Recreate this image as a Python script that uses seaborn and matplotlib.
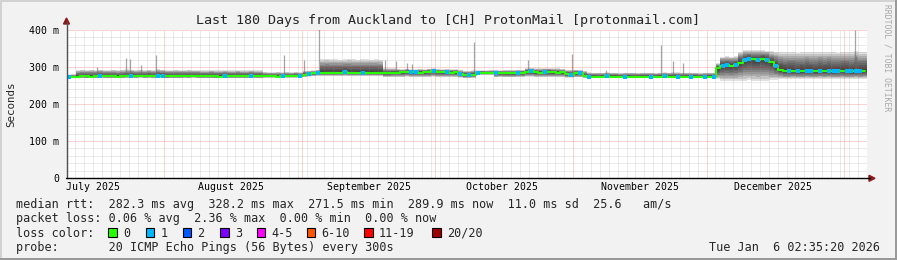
import numpy as np
import pandas as pd
import matplotlib
matplotlib.use("Agg")
import matplotlib.pyplot as plt
import seaborn as sns
from matplotlib.patches import Rectangle, Polygon
from matplotlib.lines import Line2D

# ---------------- data ----------------
start_time = "2025-07-10 02:35:20"
n_days = 180

median_ms = [
    273, 273, 274, 275, 275, 274, 275, 276, 275, 275,
    275, 274, 275, 276, 277, 275, 275, 275, 276, 275,
    277, 276, 275, 275, 275, 275, 276, 275, 275, 275,
    275, 275, 275, 275, 274, 276, 275, 275, 275, 275,
    275, 276, 275, 275, 275, 275, 275, 274, 276, 275,
    275, 276, 277, 279, 281, 283, 284, 285, 284, 284,
    284, 285, 286, 284, 284, 285, 284, 284, 285, 284,
    284, 283, 284, 285, 285, 286, 287, 286, 286, 285,
    286, 287, 289, 287, 286, 286, 285, 286, 281, 278,
    278, 279, 284, 285, 284, 283, 283, 284, 283, 283,
    283, 284, 284, 287, 288, 286, 285, 286, 287, 286,
    285, 286, 281, 279, 283, 283, 277, 274, 274, 273,
    274, 275, 274, 274, 273, 274, 274, 273, 274, 274,
    274, 273, 274, 274, 275, 274, 274, 274, 273, 274,
    274, 274, 273, 274, 274, 274, 296, 304, 306, 303,
    305, 312, 320, 322, 321, 319, 322, 320, 314, 303,
    293, 289, 289, 290, 288, 289, 290, 289, 288, 290,
    289, 290, 288, 289, 290, 289, 288, 290, 289, 290,
]

smoke_high_ms = [
    279, 280, 292, 293, 292, 293, 292, 293, 292, 292,
    293, 292, 293, 294, 293, 292, 293, 292, 293, 292,
    294, 293, 292, 292, 293, 292, 292, 293, 292, 292,
    291, 291, 292, 291, 291, 292, 291, 291, 292, 291,
    291, 292, 291, 291, 287, 286, 286, 287, 286, 287,
    286, 287, 286, 290, 290, 291, 293, 321, 322, 321,
    321, 320, 321, 322, 321, 320, 321, 321, 320, 321,
    320, 297, 296, 296, 295, 294, 295, 294, 294, 295,
    294, 295, 296, 294, 294, 295, 294, 294, 292, 290,
    290, 291, 291, 291, 291, 292, 292, 291, 292, 292,
    292, 293, 292, 296, 297, 296, 296, 297, 296, 296,
    296, 295, 292, 292, 293, 292, 290, 286, 285, 285,
    285, 286, 285, 285, 284, 285, 285, 285, 284, 285,
    285, 285, 284, 285, 286, 285, 286, 286, 285, 285,
    285, 285, 284, 285, 285, 285, 310, 328, 329, 328,
    330, 340, 345, 346, 345, 346, 345, 344, 342, 341,
    340, 340, 341, 340, 339, 340, 341, 340, 340, 341,
    340, 341, 340, 339, 340, 341, 340, 342, 341, 340,
]

smoke_low_ms = [
    269, 269, 270, 270, 269, 270, 270, 271, 270, 270,
    270, 269, 270, 270, 270, 270, 271, 270, 270, 270,
    270, 270, 269, 270, 270, 270, 270, 270, 271, 270,
    270, 270, 270, 269, 270, 270, 270, 270, 270, 270,
    270, 270, 270, 270, 271, 271, 271, 270, 271, 271,
    271, 271, 272, 273, 274, 275, 276, 276, 276, 276,
    276, 276, 276, 276, 276, 276, 276, 276, 276, 276,
    276, 273, 272, 272, 272, 272, 273, 272, 272, 272,
    272, 272, 273, 272, 272, 272, 272, 272, 271, 270,
    270, 270, 279, 279, 279, 279, 272, 272, 272, 272,
    272, 272, 272, 273, 273, 272, 272, 272, 272, 272,
    272, 272, 271, 271, 272, 272, 270, 270, 270, 270,
    270, 270, 270, 270, 270, 270, 270, 270, 270, 270,
    270, 270, 270, 270, 270, 270, 270, 270, 270, 270,
    270, 270, 270, 270, 270, 270, 268, 263, 263, 263,
    263, 263, 263, 264, 263, 263, 263, 263, 264, 266,
    267, 268, 268, 268, 268, 268, 268, 268, 268, 268,
    268, 268, 268, 268, 268, 268, 268, 268, 268, 268,
]

# single-sample spikes: day offset and top of the smoke (ms)
spike_days = [6.8, 13.2, 14.1, 16.7, 20.0, 48.8, 53.3, 56.7, 71.5, 74.0,
              76.6, 77.7, 91.6, 103.7, 113.6, 121.3, 133.7, 136.3, 138.6,
              177.2, 177.6]
spike_tops = [301, 323, 321, 305, 332, 332, 319, 405, 319, 315,
              310, 308, 368, 319, 334, 292, 359, 315, 310,
              400, 330]

# days where the median carried 1 lost ping (blue)
loss1_days = [0, 7, 14, 20, 21, 35, 41, 48, 52, 54, 56, 62, 66, 77, 78, 82,
              85, 88, 90, 92, 96, 101, 104, 107, 113, 115, 117, 121, 125,
              131, 134, 137, 140, 143, 145, 147, 148, 150, 152, 153, 155,
              157, 159, 162, 164, 166, 167, 169, 171, 172, 173, 175, 176,
              177, 178]

y_ticks = [0, 100, 200, 300, 400]
y_tick_labels = ["0", "100 m", "200 m", "300 m", "400 m"]
month_label_dates = ["2025-07-16", "2025-08-16", "2025-09-16",
                     "2025-10-16", "2025-11-16", "2025-12-16"]
month_labels = ["July 2025", "August 2025", "September 2025",
                "October 2025", "November 2025", "December 2025"]
month_starts = ["2025-08-01", "2025-09-01", "2025-10-01",
                "2025-11-01", "2025-12-01", "2026-01-01"]

loss_labels = ["0", "1", "2", "3", "4-5", "6-10", "11-19", "20/20"]
loss_colors = ["#26ff00", "#00b8ff", "#0059ff", "#7e00ff",
               "#ff00ff", "#ff5500", "#ff0000", "#a10000"]

title = "Last 180 Days from Auckland to [CH] ProtonMail [protonmail.com]"
row_rtt = "median rtt:  282.3 ms avg  328.2 ms max  271.5 ms min  289.9 ms now  11.0 ms sd  25.6   am/s"
row_loss = "packet loss: 0.06 % avg  2.36 % max  0.00 % min  0.00 % now"
row_color = "loss color:"
row_probe = "probe:       20 ICMP Echo Pings (56 Bytes) every 300s"
stamp = "Tue Jan  6 02:35:20 2026"

# ---------------- figure ----------------
sns.set_theme(style="white")
plt.rcParams["font.family"] = ["DejaVu Sans Mono"]

W, H = 897, 260
fig = plt.figure(figsize=(W / 100, H / 100), dpi=100, facecolor="#f2f2f2")


def fx(x):
    return x / W


def fy(y):
    return 1 - y / H


ax = fig.add_axes([fx(67), fy(178), 800 / W, 148 / H])
ax.set_facecolor("white")
for s in ax.spines.values():
    s.set_visible(False)

t0 = pd.Timestamp(start_time)
centers = t0 + pd.to_timedelta(np.arange(n_days) + 0.5, unit="D")
df = pd.DataFrame({"t": centers, "median": median_ms,
                   "hi": smoke_high_ms, "lo": smoke_low_ms})
edges = t0 + pd.to_timedelta(np.arange(n_days + 1), unit="D")
med_e = np.append(df["median"].values, df["median"].values[-1]).astype(float)
hi_e = np.append(df["hi"].values, df["hi"].values[-1]).astype(float)
lo_e = np.append(df["lo"].values, df["lo"].values[-1]).astype(float)

# smoke: layered grey bands, darkest around the median
n_layers = 10
for i in range(1, n_layers + 1):
    f = i / n_layers
    ax.fill_between(edges, med_e - f * (med_e - lo_e), med_e + f * (hi_e - med_e),
                    step="post", color="black", alpha=0.12, lw=0, zorder=2)

# spikes
sp_t = t0 + pd.to_timedelta(spike_days, unit="D")
sp_base = [median_ms[int(d)] for d in spike_days]
ax.vlines(sp_t, sp_base, spike_tops, color="#6a6a6a", lw=0.9, alpha=0.6, zorder=2)

# median line (green) and 1-loss samples (blue)
sns.lineplot(data=df, x="t", y="median", color=loss_colors[0], lw=1.5,
             drawstyle="steps-mid", ax=ax, zorder=4)
ldf = pd.DataFrame({"t": t0 + pd.to_timedelta(np.array(loss1_days) + 0.5, unit="D"),
                    "v": [median_ms[d] for d in loss1_days]})
sns.scatterplot(data=ldf, x="t", y="v", color=loss_colors[1], marker="s", s=6.5,
                linewidth=0, ax=ax, zorder=5)

ax.set_xlim(t0, t0 + pd.Timedelta(days=n_days))
ax.set_ylim(0, 400)
ax.set_xlabel("")
ax.set_ylabel("")

# grid
minor_c = (0.55, 0.55, 0.55, 0.35)
major_c = (0.9, 0.1, 0.1, 0.38)
dot = (0, (1, 1))
for v in range(20, 400, 20):
    if v % 100:
        ax.axhline(v, color=minor_c, lw=0.72, ls=dot, zorder=6)
for v in y_ticks[1:]:
    ax.axhline(v, color=major_c, lw=0.72, ls=dot, zorder=6)
anchor = pd.Timestamp(month_starts[0])
ms_set = set(pd.to_datetime(month_starts))
for k in range(-12, 80):
    t = anchor + pd.Timedelta(days=2 * k)
    if t0 < t < t0 + pd.Timedelta(days=n_days) and t not in ms_set:
        ax.axvline(t, color=minor_c, lw=0.72, ls=dot, zorder=6)
for m in pd.to_datetime(month_starts):
    ax.axvline(m, color=major_c, lw=0.72, ls=dot, zorder=6)

# ticks
ax.set_yticks(y_ticks)
ax.set_yticklabels(y_tick_labels)
ax.set_xticks(pd.to_datetime(month_label_dates))
ax.set_xticklabels(month_labels)
ax.tick_params(axis="both", length=0, labelsize=7.1, colors="black")
ax.tick_params(axis="y", pad=5.5)
ax.tick_params(axis="x", pad=2.8)

# axis lines + arrows
fig.add_artist(Line2D([fx(66.5), fx(66.5)], [fy(178), fy(22)], color="#505050", lw=1.0))
fig.add_artist(Line2D([fx(66), fx(870)], [fy(178.3), fy(178.3)], color="black", lw=1.0))
fig.add_artist(Polygon([[fx(63.5), fy(24)], [fx(69.5), fy(24)], [fx(66.5), fy(18)]],
                       closed=True, color="#8b1a1a"))
fig.add_artist(Polygon([[fx(869), fy(175.3)], [fx(869), fy(181.3)], [fx(875), fy(178.3)]],
                       closed=True, color="#8b1a1a"))

# frame shading
fig.add_artist(Rectangle((0, fy(2)), 1, 2 / H, color="#d2d2d2", lw=0))
fig.add_artist(Rectangle((0, 0), 2 / W, 1, color="#d2d2d2", lw=0))
fig.add_artist(Rectangle((0, 0), 1, 2 / H, color="#9a9a9a", lw=0))
fig.add_artist(Rectangle((fx(W - 2), 0), 2 / W, 1, color="#9a9a9a", lw=0))

# texts
fig.text(fx(448), fy(24), title, ha="center", va="baseline", fontsize=9.6)
fig.text(fx(11), fy(104), "Seconds", rotation=90, ha="center", va="center", fontsize=7.8)
fig.text(fx(887), fy(58), "RRDTOOL / TOBI OETIKER", rotation=270, ha="center",
         va="center", fontsize=5.8, color="#a8a8a8")

fs = 8.45
fig.text(fx(16), fy(208), row_rtt, ha="left", va="baseline", fontsize=fs)
fig.text(fx(16), fy(222.3), row_loss, ha="left", va="baseline", fontsize=fs)
fig.text(fx(16), fy(236.6), row_color, ha="left", va="baseline", fontsize=fs)
fig.text(fx(16), fy(250.9), row_probe, ha="left", va="baseline", fontsize=fs)
fig.text(fx(880), fy(250.9), stamp, ha="right", va="baseline", fontsize=fs)

box_x = [108, 145.5, 182.5, 220, 256.5, 306.5, 364, 432]
for bx, lab, col in zip(box_x, loss_labels, loss_colors):
    fig.add_artist(Rectangle((fx(bx), fy(236.5)), 8.5 / W, 8.5 / H,
                             facecolor=col, edgecolor="black", lw=0.8))
    fig.text(fx(bx + 15), fy(236.6), lab, ha="left", va="baseline", fontsize=fs)

fig.savefig("out.png", dpi=100, facecolor=fig.get_facecolor())
